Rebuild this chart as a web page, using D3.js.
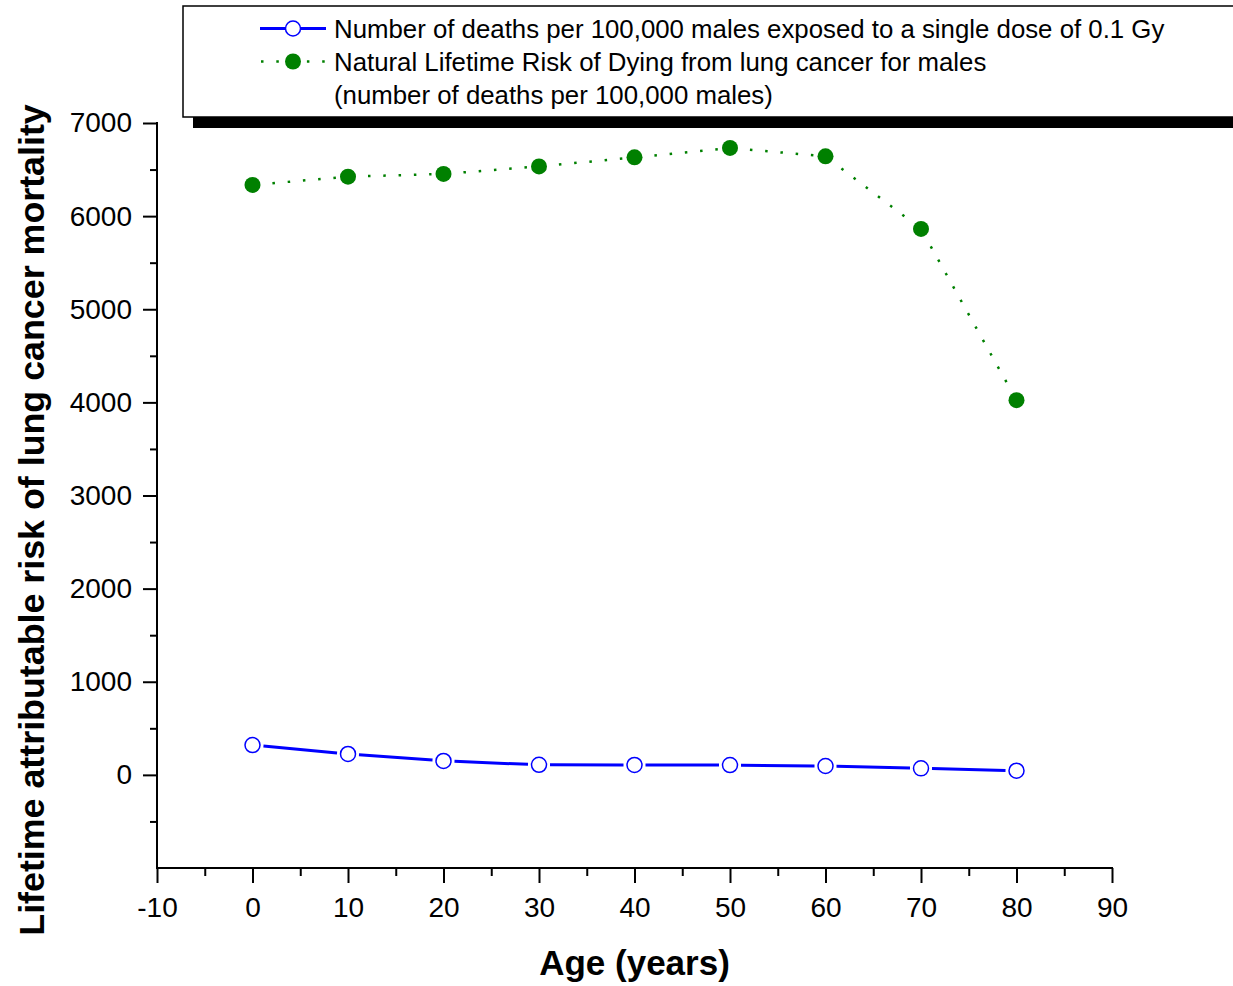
<!DOCTYPE html>
<html>
<head>
<meta charset="utf-8">
<script src="https://cdn.jsdelivr.net/npm/d3@7"></script>
<style>
  html, body { margin: 0; padding: 0; background: #fff; }
  svg { display: block; font-family: Arial, "Liberation Sans", sans-serif; }
</style>
</head>
<body>
<svg id="chart" width="1233" height="986"></svg>
<script>
// ---- data ----
const ages = [0, 10, 20, 30, 40, 50, 60, 70, 80];
const larDeaths = [320, 225, 150, 108, 107, 105, 95, 70, 45];
const naturalRisk = [6335, 6424, 6453, 6534, 6631, 6732, 6642, 5863, 4024];
const xMajorTicks = [-10, 0, 10, 20, 30, 40, 50, 60, 70, 80, 90];
const xMinorTicks = [-5, 5, 15, 25, 35, 45, 55, 65, 75, 85];
const yMajorTicks = [0, 1000, 2000, 3000, 4000, 5000, 6000, 7000];
const yMinorTicks = [-500, 500, 1500, 2500, 3500, 4500, 5500, 6500];
const legendLabels = [
  "Number of deaths per 100,000 males exposed to a single dose of 0.1 Gy",
  "Natural Lifetime Risk of Dying from lung cancer for males",
  "(number of deaths per 100,000 males)"
];
const xTitle = "Age (years)";
const yTitle = "Lifetime attributable risk of lung cancer mortality";

// ---- layout ----
const svg = d3.select("#chart");
const pLeft = 157, pRight = 1112, pTop = 123, pBottom = 868;
const x = d3.scaleLinear().domain([-10, 90]).range([pLeft, pRight]);
const y = d3.scaleLinear().domain([-1000, 7000]).range([pBottom, pTop]);
const blue = "#0000ff", green = "#008000";
const plainFmt = d => String(d);

// ---- axes ----
function styleAxis(g) {
  g.select(".domain").remove();
  g.selectAll(".tick line").attr("stroke", "#000").attr("stroke-width", 2);
  g.selectAll(".tick text").attr("fill", "#000").style("font-size", "28px")
    .style("font-family", "Arial, 'Liberation Sans', sans-serif");
}
svg.append("g").attr("transform", `translate(0,${pBottom})`)
  .call(d3.axisBottom(x).tickValues(xMajorTicks).tickSize(15).tickPadding(14).tickFormat(plainFmt))
  .call(styleAxis);
svg.append("g").attr("transform", `translate(0,${pBottom})`)
  .call(d3.axisBottom(x).tickValues(xMinorTicks).tickSize(8).tickFormat(""))
  .call(styleAxis);
svg.append("g").attr("transform", `translate(${pLeft},0)`)
  .call(d3.axisLeft(y).tickValues(yMajorTicks).tickSize(14).tickPadding(11).tickFormat(plainFmt))
  .call(styleAxis);
svg.append("g").attr("transform", `translate(${pLeft},0)`)
  .call(d3.axisLeft(y).tickValues(yMinorTicks).tickSize(7).tickFormat(""))
  .call(styleAxis);
svg.append("line").attr("x1", pLeft).attr("x2", pLeft).attr("y1", pTop - 1).attr("y2", pBottom + 1)
  .attr("stroke", "#000").attr("stroke-width", 2);
svg.append("line").attr("x1", pLeft - 1).attr("x2", pRight + 1).attr("y1", pBottom).attr("y2", pBottom)
  .attr("stroke", "#000").attr("stroke-width", 2);

// ---- titles ----
svg.append("text").attr("x", (pLeft + pRight) / 2).attr("y", 975)
  .attr("text-anchor", "middle").style("font-size", "35px").style("font-weight", "bold")
  .text(xTitle);
svg.append("text").attr("transform", `translate(44,520) rotate(-90)`)
  .attr("text-anchor", "middle").style("font-size", "35.8px").style("font-weight", "bold")
  .text(yTitle);

// ---- series ----
function gapSegments(pts, gap) {
  const segs = [];
  for (let i = 0; i < pts.length - 1; i++) {
    const [x1, y1] = pts[i], [x2, y2] = pts[i + 1];
    const dx = x2 - x1, dy = y2 - y1, L = Math.hypot(dx, dy);
    const ux = dx / L, uy = dy / L;
    segs.push([[x1 + ux * gap, y1 + uy * gap], [x2 - ux * gap, y2 - uy * gap]]);
  }
  return segs;
}
const line = d3.line();

const bluePts = ages.map((a, i) => [x(a), y(larDeaths[i])]);
svg.append("g").selectAll("path").data(gapSegments(bluePts, 11)).join("path")
  .attr("d", line).attr("fill", "none").attr("stroke", blue).attr("stroke-width", 3);
svg.append("g").selectAll("circle").data(bluePts).join("circle")
  .attr("cx", d => d[0]).attr("cy", d => d[1]).attr("r", 7.5)
  .attr("fill", "#fff").attr("stroke", blue).attr("stroke-width", 1.5);

const greenPts = ages.map((a, i) => [x(a), y(naturalRisk[i])]);
svg.append("g").selectAll("path").data(gapSegments(greenPts, 12)).join("path")
  .attr("d", line).attr("fill", "none").attr("stroke", green).attr("stroke-width", 2.5)
  .attr("stroke-dasharray", "2.5,12.8").attr("stroke-dashoffset", -8);
svg.append("g").selectAll("circle").data(greenPts).join("circle")
  .attr("cx", d => d[0]).attr("cy", d => d[1]).attr("r", 8)
  .attr("fill", green);

// ---- legend ----
const lg = svg.append("g");
lg.append("rect").attr("x", 193).attr("y", 16).attr("width", 1100).attr("height", 112).attr("fill", "#000");
lg.append("rect").attr("x", 183).attr("y", 6).attr("width", 1100).attr("height", 111)
  .attr("fill", "#fff").attr("stroke", "#000").attr("stroke-width", 1.5);
// entry 1
lg.append("line").attr("x1", 260).attr("x2", 326).attr("y1", 28.5).attr("y2", 28.5)
  .attr("stroke", blue).attr("stroke-width", 3);
lg.append("circle").attr("cx", 293).attr("cy", 28.5).attr("r", 7.5)
  .attr("fill", "#fff").attr("stroke", blue).attr("stroke-width", 1.5);
// entry 2
lg.append("line").attr("x1", 261).attr("x2", 326).attr("y1", 61.5).attr("y2", 61.5)
  .attr("stroke", green).attr("stroke-width", 2.5).attr("stroke-dasharray", "2.5,12.8");
lg.append("circle").attr("cx", 293).attr("cy", 61.5).attr("r", 8).attr("fill", green);
lg.selectAll("text.lab").data(legendLabels).join("text").attr("class", "lab")
  .attr("x", 334).attr("y", (d, i) => 38 + i * 33)
  .style("font-size", "25.8px").attr("fill", "#000").text(d => d);
</script>
</body>
</html>
